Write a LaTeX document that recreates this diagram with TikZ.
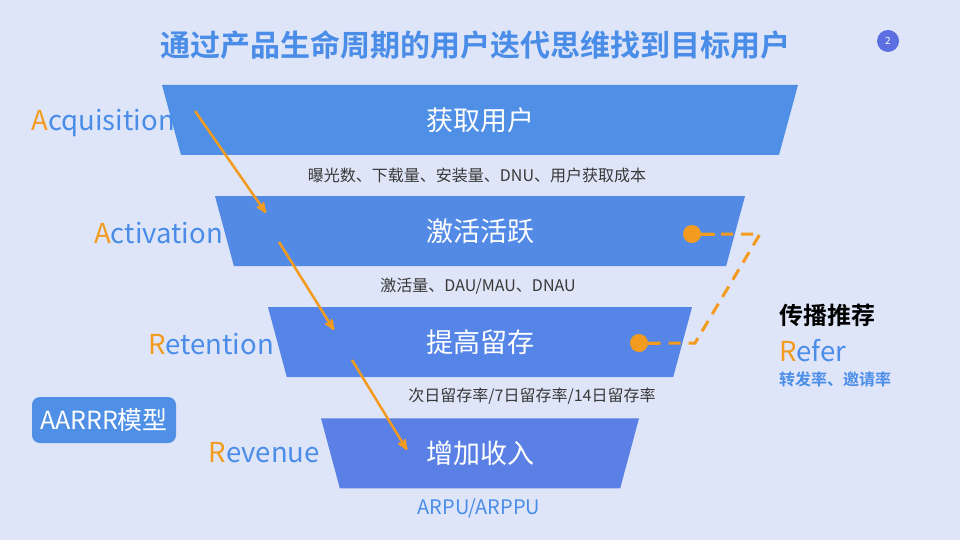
\documentclass[tikz,border=0pt]{standalone}
\usepackage{fontspec}
\setmainfont{Noto Sans CJK SC}[BoldFont={Noto Sans CJK SC Bold}]
\usetikzlibrary{arrows,shapes.geometric,positioning}
\definecolor{bg}{HTML}{DFE5F8}
\definecolor{tblue}{HTML}{4A8DE8}
\definecolor{lone}{HTML}{4F90E6}
\definecolor{ltwo}{HTML}{528AE6}
\definecolor{lthree}{HTML}{5585E6}
\definecolor{lfour}{HTML}{5A80E6}
\definecolor{aorange}{HTML}{F39B1E}
\definecolor{subgray}{HTML}{383838}
\definecolor{pgblue}{HTML}{5B6FE0}
\newcommand{\ini}[1]{\textcolor{aorange}{#1}}
\tikzset{
    layer/.style =  {trapezium,
                    shape border rotate=180,
                    trapezium angle=52.9,
                    trapezium stretches body,
                    minimum height=70pt,
                    inner sep=0pt,
                    text=white,
                    font=\fontsize{27}{27}\selectfont},
    stage/.style =  {anchor=east,
                    inner sep=0pt,
                    text=tblue,
                    font=\fontsize{27.5}{27.5}\selectfont},
    metric/.style = {inner sep=0pt,
                    text=subgray,
                    font=\fontsize{16}{16}\selectfont},
    model/.style =  {rectangle,
                    rounded corners=8pt,
                    fill=lone,
                    text=white,
                    minimum width=144pt,
                    minimum height=46pt,
                    font=\fontsize{25}{25}\selectfont},
    dot/.style =    {circle,
                    fill=aorange,
                    minimum size=18pt,
                    inner sep=0pt},
    pageno/.style = {circle,
                    fill=pgblue,
                    text=white,
                    minimum size=22pt,
                    inner sep=0pt,
                    font=\fontsize{10}{10}\selectfont},
    -,
    flow/.style =   {aorange, line width=2.5pt, ->},
    refer/.style =  {draw=aorange, line width=3pt, dash pattern=on 12pt off 8pt},
    stub/.style =   {draw=aorange, line width=3pt},
    >=stealth',
    node distance=40.7pt}

\begin{document}
\begin{tikzpicture}[x=1pt,y=-1pt]
    \fill[bg] (0,0) rectangle (960,540);
    \node[text=tblue, font=\fontsize{30}{30}\selectfont\bfseries] (T) at (475,45) {通过产品生命周期的用户迭代思维找到目标用户};
    \node[pageno]   (pg) at (888,41)  {2};
    % funnel
    \node[layer, fill=lone,   minimum width=636pt] (Acq) at (480,120) {获取用户};
    \node[layer, fill=ltwo,   minimum width=530pt] (Act) [below=of Acq] {激活活跃};
    \node[layer, fill=lthree, minimum width=424pt] (Ret) [below=of Act] {提高留存};
    \node[layer, fill=lfour,  minimum width=318pt] (Rev) [below=of Ret] {增加收入};
    \node[metric] (mAcq) at (477,175) {曝光数、下载量、安装量、DNU、用户获取成本};
    \node[metric] (mAct) at (478,286) {激活量、DAU/MAU、DNAU};
    \node[metric] (mRet) at (532,396) {次日留存率/7日留存率/14日留存率};
    \node[metric, text=tblue, font=\fontsize{20}{20}\selectfont] (mRev) at (479,508) {ARPU/ARPPU};
    % stage names
    \node[stage] (sAcq) at (175,123) {\ini{A}cquisition};
    \node[stage] (sAct) at (223,233) {\ini{A}ctivation};
    \node[stage] (sRet) at (274,344) {\ini{R}etention};
    \node[stage] (sRev) at (320,453) {\ini{R}evenue};
    \node[model] (M) at (104,420) {AARRR模型};
    % refer
    \node[anchor=west, inner sep=0pt, font=\fontsize{24}{24}\selectfont\bfseries] (rT) at (779,315) {传播推荐};
    \node[stage, anchor=west] (rN) at (779,351) {\ini{R}efer};
    \node[anchor=west, inner sep=0pt, text=tblue, font=\fontsize{16}{16}\selectfont\bfseries] (rM) at (779,379) {转发率、邀请率};
    \node[dot] (d1) at (692,234) {};
    \node[dot] (d2) at (639,343) {};
    \coordinate (c1) at (760,234);
    \coordinate (c2) at (695,343);
    \draw[refer] (d1) -- (c1) -- (c2) -- (d2);
    \draw[stub] (d1.east) -- +(14,0);
    \draw[stub] (d2.east) -- +(12,0);
    % flow arrows
    \coordinate (f1) at (195,111);
    \coordinate (f2) at (266,213);
    \coordinate (f3) at (279,242);
    \coordinate (f4) at (334,330);
    \coordinate (f5) at (352,360);
    \coordinate (f6) at (407,450);
    \path [flow]    (f1) edge (f2)
                    (f3) edge (f4)
                    (f5) edge (f6);
\end{tikzpicture}
\end{document}
